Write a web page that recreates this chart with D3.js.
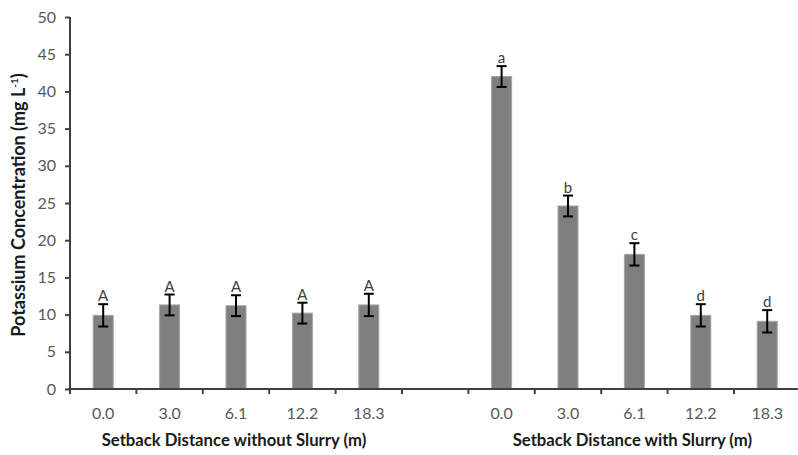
<!DOCTYPE html>
<html>
<head>
<meta charset="utf-8">
<script src="https://cdn.jsdelivr.net/npm/d3@7"></script>
<style>
  body { margin: 0; background: #fff; }
  svg { display: block; font-family: Lato, "Open Sans", sans-serif; }
</style>
</head>
<body>
<div id="chart"></div>
<script>
// Data
const distances = ["0.0", "3.0", "6.1", "12.2", "18.3"];
const withoutMeans = [9.9, 11.3, 11.2, 10.2, 11.3];
const withoutErr = [1.5, 1.4, 1.4, 1.4, 1.5];
const withoutLetters = ["A", "A", "A", "A", "A"];
const withMeans = [42.0, 24.6, 18.1, 9.9, 9.1];
const withErr = [1.4, 1.4, 1.5, 1.5, 1.5];
const withLetters = ["a", "b", "c", "d", "d"];
const groupTitles = ["Setback Distance without Slurry (m)", "Setback Distance with Slurry (m)"];
const yTicks = [0, 5, 10, 15, 20, 25, 30, 35, 40, 45, 50];

const width = 798;
const height = 455;
const margin = { top: 17, right: 0, bottom: 66, left: 70 };

// build rows: 5 without, one empty slot, 5 with
const rows = [];
distances.forEach((d, i) => rows.push({ key: "n" + i, label: d, mean: withoutMeans[i], err: withoutErr[i], letter: withoutLetters[i], group: 0 }));
rows.push({ key: "gap", label: "", mean: null, group: -1 });
distances.forEach((d, i) => rows.push({ key: "s" + i, label: d, mean: withMeans[i], err: withErr[i], letter: withLetters[i], group: 1 }));

const x = d3.scaleBand()
  .domain(rows.map(d => d.key))
  .range([margin.left, margin.left + 11 * 66.4])
  .paddingInner(0)
  .paddingOuter(0);

const y = d3.scaleLinear()
  .domain([0, 50])
  .range([height - margin.bottom, margin.top]);

const svg = d3.select("#chart").append("svg")
  .attr("width", width)
  .attr("height", height);

const barW = 20;
const bars = rows.filter(d => d.mean !== null);

// bars
svg.append("g").selectAll("rect")
  .data(bars)
  .join("rect")
  .attr("x", d => x(d.key) + x.bandwidth() / 2 - barW / 2)
  .attr("y", d => y(d.mean))
  .attr("width", barW)
  .attr("height", d => y(0) - y(d.mean))
  .attr("fill", "#7f7f7f")
  .attr("stroke", "#a6a6a6")
  .attr("stroke-width", 1);

// error bars
const eb = svg.append("g").attr("stroke", "#000").attr("stroke-width", 2);
bars.forEach(d => {
  const cx = x(d.key) + x.bandwidth() / 2;
  eb.append("line").attr("x1", cx).attr("x2", cx).attr("y1", y(d.mean + d.err)).attr("y2", y(d.mean - d.err));
  eb.append("line").attr("x1", cx - 5).attr("x2", cx + 5).attr("y1", y(d.mean + d.err)).attr("y2", y(d.mean + d.err));
  eb.append("line").attr("x1", cx - 5).attr("x2", cx + 5).attr("y1", y(d.mean - d.err)).attr("y2", y(d.mean - d.err));
});

// significance letters
svg.append("g").selectAll("text")
  .data(bars)
  .join("text")
  .attr("x", d => x(d.key) + x.bandwidth() / 2)
  .attr("y", d => y(d.mean + d.err) - 3)
  .attr("text-anchor", "middle")
  .attr("font-size", 15)
  .attr("fill", "#404040")
  .text(d => d.letter);

// y axis
const yAxis = svg.append("g")
  .attr("transform", `translate(${margin.left},0)`)
  .call(d3.axisLeft(y).tickValues(yTicks).tickSize(5).tickPadding(9).tickFormat(d3.format("d")));
yAxis.select(".domain").attr("stroke", "#404040").attr("stroke-width", 2).attr("d", `M0,${y(50)}V${y(0)}`);
yAxis.selectAll(".tick line").attr("stroke", "#404040").attr("stroke-width", 2);
yAxis.selectAll(".tick text").attr("font-size", 16).attr("fill", "#595959").attr("font-family", "Lato, sans-serif");

// x axis
const xAxis = svg.append("g")
  .attr("transform", `translate(0,${y(0)})`);
xAxis.append("line")
  .attr("x1", margin.left - 2).attr("x2", width)
  .attr("stroke", "#404040").attr("stroke-width", 2);
xAxis.selectAll(".xtick")
  .data(rows)
  .join("line")
  .attr("x1", d => x(d.key)).attr("x2", d => x(d.key))
  .attr("y1", 0).attr("y2", 5)
  .attr("stroke", "#404040").attr("stroke-width", 2);
xAxis.selectAll(".xlabel")
  .data(rows)
  .join("text")
  .attr("x", d => x(d.key) + x.bandwidth() / 2)
  .attr("y", 30)
  .attr("text-anchor", "middle")
  .attr("font-size", 16)
  .attr("fill", "#595959")
  .text(d => d.label);

// group titles
[0, 1].forEach(g => {
  const keys = rows.filter(d => d.group === g).map(d => d.key);
  const x0 = x(keys[0]);
  const x1 = x(keys[keys.length - 1]) + x.bandwidth();
  svg.append("text")
    .attr("x", (x0 + x1) / 2 - 2)
    .attr("y", 446)
    .attr("text-anchor", "middle")
    .attr("font-size", 16.7)
    .attr("font-weight", "bold")
    .attr("fill", "#1a1a1a")
    .text(groupTitles[g]);
});

// y title
const yt = svg.append("text")
  .attr("transform", `translate(25,${(y(0) + y(50)) / 2 + 2}) rotate(-90)`)
  .attr("text-anchor", "middle")
  .attr("font-size", 18)
  .attr("font-weight", "bold")
  .attr("fill", "#1a1a1a");
yt.append("tspan").text("Potassium Concentration (mg L");
yt.append("tspan").attr("font-size", 10).attr("dy", -7).text("-1");
yt.append("tspan").attr("dy", 7).text(")");
</script>
</body>
</html>
